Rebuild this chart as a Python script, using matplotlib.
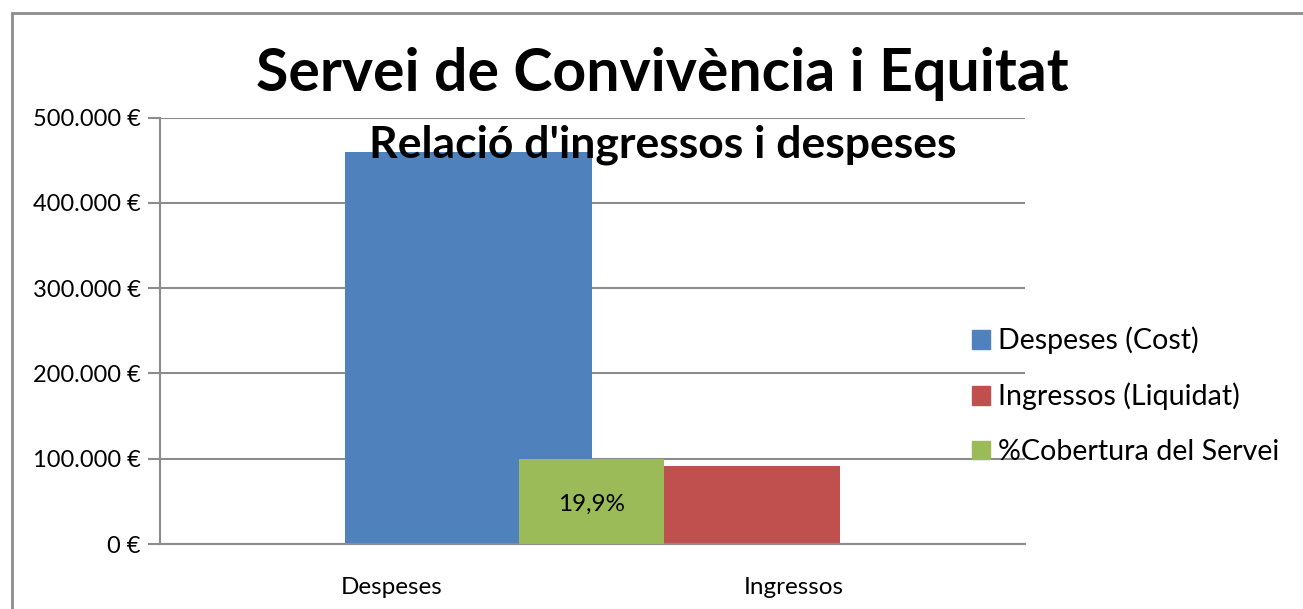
import matplotlib.pyplot as plt
from matplotlib.patches import Rectangle, Patch
from matplotlib.ticker import FuncFormatter

plt.rcParams['font.family'] = ['Lato', 'DejaVu Sans']

categories = ["Despeses", "Ingressos"]
series = ["Despeses (Cost)", "Ingressos (Liquidat)", "%Cobertura del Servei"]
despeses = 460000
ingressos = 91400
cobertura_bar = 100000
cobertura_label = "19,9%"
colors = ["#4F81BD", "#C0504D", "#9BBB59"]
grid_col = "#8C8C8C"

fig = plt.figure(figsize=(13.03, 6.09), dpi=100)
ax = fig.add_axes([0.1228, 0.1067, 0.6635, 0.7000])

# bar spans (x in axis units, 0..2)
ax.bar(0.428, despeses, width=0.572, align="edge", color=colors[0], zorder=2)
ax.bar(1.167, ingressos, width=0.405, align="edge", color=colors[1], zorder=2)
ax.bar(0.831, cobertura_bar, width=0.336, align="edge", color=colors[2], zorder=3)
ax.text(0.999, cobertura_bar * 0.47, cobertura_label, ha="center", va="center",
        fontsize=17.5, zorder=4)

ax.set_xlim(0, 2)
ax.set_ylim(0, 500000)
ax.set_yticks(range(0, 500001, 100000))
ax.yaxis.set_major_formatter(FuncFormatter(
    lambda v, p: f"{int(v):,} €".replace(",", ".")))
ax.set_xticks([0.535, 1.465])
ax.set_xticklabels(categories)
ax.tick_params(axis="x", length=0, pad=24, labelsize=17.5)
ax.tick_params(axis="y", length=9, color=grid_col, width=1.5, pad=5, labelsize=17)
ax.grid(axis="y", color=grid_col, linewidth=1.5, zorder=1)
ax.set_axisbelow(True)
for s in ["top", "right"]:
    ax.spines[s].set_visible(False)
for s in ["left", "bottom"]:
    ax.spines[s].set_color(grid_col)
    ax.spines[s].set_linewidth(1.5)

fig.text(0.508, 0.878, "Servei de Convivència i Equitat", ha="center", va="center",
         fontsize=42.5, fontweight="bold")
fig.text(0.509, 0.763, "Relació d'ingressos i despeses", ha="center", va="center",
         fontsize=32, fontweight="bold")

handles = [Patch(color=c) for c in colors]
fig.legend(handles, series, loc="center left", bbox_to_anchor=(0.726, 0.35),
           frameon=False, fontsize=20.6, handlelength=0.63, handleheight=0.63,
           handletextpad=0.3, labelspacing=1.0)

# outer chart border
fig.patches.append(Rectangle((12 / 1303, -0.1), 1.2, 1 - 13 / 609 + 0.1,
                             transform=fig.transFigure, fill=False,
                             edgecolor="#8C8C8C", linewidth=2))

fig.savefig("out.png", dpi=100)
